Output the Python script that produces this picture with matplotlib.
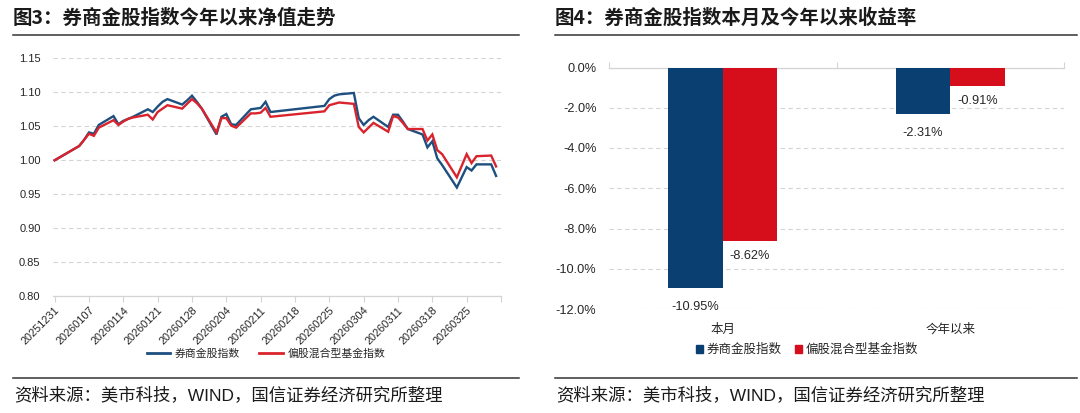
import matplotlib
matplotlib.use('Agg')
import matplotlib.pyplot as plt
import pandas as pd
from matplotlib.lines import Line2D
from matplotlib.patches import Patch

plt.rcParams['font.family'] = ['Liberation Sans', 'Noto Sans CJK SC', 'DejaVu Sans']

# ---------------- data ----------------
dates = ['2025-12-31', '2026-01-05', '2026-01-06', '2026-01-07', '2026-01-08', '2026-01-09',
         '2026-01-12', '2026-01-13', '2026-01-14', '2026-01-15', '2026-01-16',
         '2026-01-19', '2026-01-20', '2026-01-21', '2026-01-22', '2026-01-23',
         '2026-01-26', '2026-01-27', '2026-01-28', '2026-01-29', '2026-01-30',
         '2026-02-02', '2026-02-03', '2026-02-04', '2026-02-05', '2026-02-06',
         '2026-02-09', '2026-02-10', '2026-02-11', '2026-02-12', '2026-02-13',
         '2026-02-24', '2026-02-25', '2026-02-26', '2026-02-27',
         '2026-03-02', '2026-03-03', '2026-03-04', '2026-03-05', '2026-03-06',
         '2026-03-09', '2026-03-10', '2026-03-11', '2026-03-12', '2026-03-13',
         '2026-03-16', '2026-03-17', '2026-03-18', '2026-03-19', '2026-03-20',
         '2026-03-23', '2026-03-24', '2026-03-25', '2026-03-26', '2026-03-27',
         '2026-03-30', '2026-03-31']

broker_gold = [1.000, 1.021, 1.030, 1.041, 1.039, 1.052,
               1.065, 1.053, 1.058, 1.061, 1.064,
               1.075, 1.071, 1.079, 1.086, 1.090,
               1.082, 1.088, 1.095, 1.086, 1.076,
               1.038, 1.064, 1.068, 1.053, 1.052,
               1.075, 1.076, 1.077, 1.086, 1.071,
               1.080, 1.090, 1.095, 1.097,
               1.099, 1.062, 1.052, 1.059, 1.064,
               1.049, 1.067, 1.067, 1.057, 1.046,
               1.038, 1.019, 1.028, 1.003, 0.993,
               0.960, 0.975, 0.990, 0.985, 0.994,
               0.994, 0.977]

mixed_fund = [1.000, 1.021, 1.030, 1.039, 1.036, 1.048,
              1.059, 1.052, 1.057, 1.061, 1.063,
              1.067, 1.060, 1.071, 1.076, 1.081,
              1.076, 1.083, 1.090, 1.084, 1.076,
              1.041, 1.062, 1.062, 1.051, 1.048,
              1.069, 1.069, 1.070, 1.077, 1.064,
              1.072, 1.081, 1.083, 1.085,
              1.083, 1.049, 1.041, 1.048, 1.055,
              1.042, 1.065, 1.063, 1.055, 1.046,
              1.046, 1.029, 1.038, 1.015, 1.009,
              0.975, 0.992, 1.009, 0.996, 1.006,
              1.007, 0.991]

series_names = ['券商金股指数', '偏股混合型基金指数']
xtick_labels = ['20251231', '20260107', '20260114', '20260121', '20260128', '20260204',
                '20260211', '20260218', '20260225', '20260304', '20260311', '20260318',
                '20260325']
x_end = '20260401'
ytick_vals = [0.80, 0.85, 0.90, 0.95, 1.00, 1.05, 1.10, 1.15]

bar_categories = ['本月', '今年以来']
bar_broker = [-10.95, -2.31]
bar_fund = [-8.62, -0.91]
bar_yticks = [0, -2, -4, -6, -8, -10, -12]

title_left = '图3：券商金股指数今年以来净值走势'
title_right = '图4：券商金股指数本月及今年以来收益率'
source_text = '资料来源：美市科技，WIND，国信证券经济研究所整理'

# ---------------- style ----------------
W, H = 1080, 413
BLUE_L, RED_L = '#1d4f7f', '#d9232d'
BLUE_B, RED_B = '#0a3f72', '#d60d1b'
GRID = '#d4d4d4'
TXT = '#262626'

fig = plt.figure(figsize=(W / 100, H / 100), dpi=100)


def rect(x0, y0, x1, y1):
    return [x0 / W, 1 - y1 / H, (x1 - x0) / W, (y1 - y0) / H]


def fy(py):
    return 1 - py / H


# ---------- left: line chart ----------
ax1 = fig.add_axes(rect(53, 58.3, 501, 296.3))
xd = pd.to_datetime(dates)
tick_d = pd.to_datetime(xtick_labels, format='%Y%m%d')
end_d = pd.to_datetime(x_end, format='%Y%m%d')

ax1.plot(xd, broker_gold, color=BLUE_L, lw=1.7, solid_joinstyle='miter', zorder=3)
ax1.plot(xd, mixed_fund, color=RED_L, lw=1.7, solid_joinstyle='miter', zorder=3)

ax1.set_xlim(tick_d[0] - pd.Timedelta(hours=8), end_d)
ax1.set_ylim(ytick_vals[0], ytick_vals[-1])
ax1.set_yticks(ytick_vals)
ax1.set_yticklabels([f'{v:.2f}' for v in ytick_vals], fontsize=8, color=TXT)
ax1.set_xticks(list(tick_d) + [end_d])
ax1.set_xticklabels(xtick_labels + [''], fontsize=7.9, color=TXT, rotation=45,
                    ha='right', va='top', rotation_mode='anchor')
ax1.tick_params(axis='y', length=0, pad=9)
ax1.tick_params(axis='x', length=4, width=0.8, color=GRID, pad=2.5)
ax1.yaxis.grid(True, linestyle=(0, (4, 3)), color=GRID, lw=0.8)
ax1.set_axisbelow(True)
for s in ['left', 'right', 'top']:
    ax1.spines[s].set_visible(False)
ax1.spines['bottom'].set_color(GRID)
ax1.spines['bottom'].set_linewidth(0.9)
ax1.spines['bottom'].set_zorder(2)

leg1 = fig.legend(handles=[Line2D([], [], color=BLUE_L, lw=2), Line2D([], [], color=RED_L, lw=2)],
                  labels=series_names, loc='center', bbox_to_anchor=(266 / W, fy(354)),
                  ncol=2, frameon=False, fontsize=7.8, handlelength=2.2, handletextpad=0.4,
                  columnspacing=1.8, borderpad=0)
for t in leg1.get_texts():
    t.set_color(TXT)

# ---------- right: bar chart ----------
ax2 = fig.add_axes(rect(609, 67.5, 1064, 309))
xs = range(len(bar_categories))
bw = 0.24
b1 = ax2.bar([x - bw / 2 for x in xs], bar_broker, width=bw, color=BLUE_B, zorder=3)
b2 = ax2.bar([x + bw / 2 for x in xs], bar_fund, width=bw, color=RED_B, zorder=3)
for bars, vals, off in [(b1, bar_broker, -14), (b2, bar_fund, -11)]:
    for r, v in zip(bars, vals):
        ax2.annotate(f'{v:.2f}%', (r.get_x() + r.get_width() / 2, v), xytext=(0, off),
                     textcoords='offset points', ha='center', va='center',
                     fontsize=9.2, color=TXT, zorder=4)

ax2.set_xlim(-0.5, len(bar_categories) - 0.5)
ax2.set_ylim(bar_yticks[-1], bar_yticks[0])
ax2.set_yticks(bar_yticks)
ax2.set_yticklabels([f'{v:.1f}%' for v in bar_yticks], fontsize=9.2, color=TXT)
ax2.tick_params(axis='y', length=0, pad=9)
ax2.set_xticks(list(xs))
ax2.set_xticklabels(bar_categories, fontsize=9, color=TXT,
                    family=['Noto Sans CJK SC', 'DejaVu Sans'])
ax2.tick_params(axis='x', length=0, pad=10)
ax2.set_xticks([x - 0.5 for x in range(len(bar_categories) + 1)], minor=True)
ax2.tick_params(axis='x', which='minor', top=True, bottom=False, direction='out',
                length=4, color=GRID, width=0.8)
ax2.yaxis.grid(True, linestyle=(0, (4, 3)), color=GRID, lw=0.8)
ax2.set_axisbelow(True)
for s in ['left', 'right', 'bottom']:
    ax2.spines[s].set_visible(False)
ax2.spines['top'].set_color(GRID)
ax2.spines['top'].set_linewidth(0.9)

leg2 = fig.legend(handles=[Patch(color=BLUE_B), Patch(color=RED_B)], labels=series_names,
                  loc='center', bbox_to_anchor=(807 / W, fy(350)), ncol=2, frameon=False,
                  fontsize=9, handlelength=0.6, handleheight=0.6, handletextpad=0.3,
                  columnspacing=1.0, borderpad=0)
for t in leg2.get_texts():
    t.set_color(TXT)

# ---------- titles, rules, sources ----------
for x0, x1, title in [(13, 519, title_left), (555, 1077, title_right)]:
    fig.text(x0 / W, fy(18), title, fontsize=14, fontweight='bold', color='#1a1a1a',
             ha='left', va='center', family=['Noto Sans CJK SC', 'DejaVu Sans'])
    fig.add_artist(Line2D([x0 / W, x1 / W], [fy(35), fy(35)], color='#333333', lw=1.1))
    fig.add_artist(Line2D([x0 / W, x1 / W], [fy(378), fy(378)], color='#333333', lw=1.1))
    fig.text((x0 + 1) / W, fy(395), source_text, fontsize=12.5, color='#1a1a1a',
             ha='left', va='center')

fig.savefig('out.png', dpi=100, facecolor='white')
